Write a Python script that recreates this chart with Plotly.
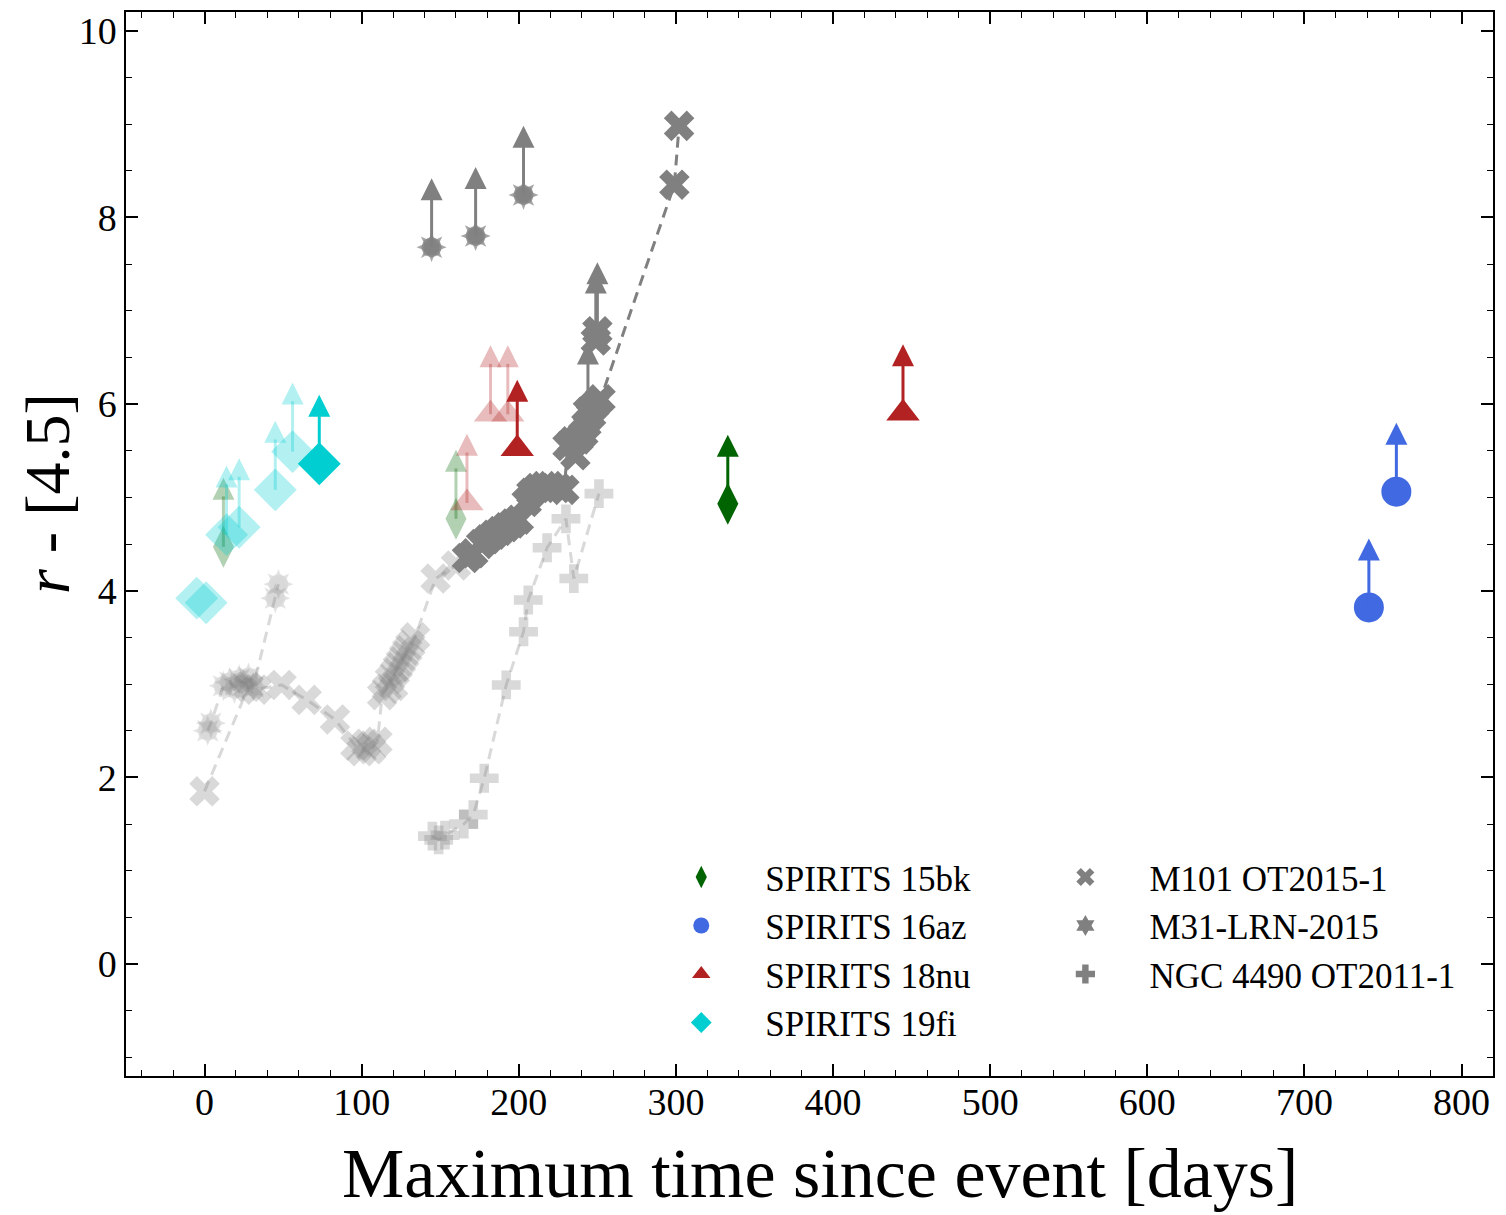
import plotly.graph_objects as go

# ---------------- data ----------------
# SPIRITS 15bk (earlier epochs faded, latest opaque); all lower limits
bk15_faded_days = [12, 160]
bk15_faded_val = [4.47, 4.77]
bk15_faded_lim = [True, True]
bk15_days = [333]
bk15_val = [4.93]
bk15_lim = [True]

# SPIRITS 16az
az16_days = [741, 758.5]
az16_val = [3.82, 5.06]
az16_lim = [True, True]

# SPIRITS 18nu
nu18_faded_days = [167, 182, 193]
nu18_faded_val = [4.94, 5.89, 5.89]
nu18_faded_lim = [True, True, True]
nu18_days = [199, 444.5]
nu18_val = [5.52, 5.9]
nu18_lim = [True, True]

# SPIRITS 19fi
fi19_faded_days = [-5, 1, 14, 22, 45, 56]
fi19_faded_val = [3.92, 3.87, 4.6, 4.68, 5.08, 5.49]
fi19_faded_lim = [False, False, True, True, True, True]
fi19_days = [73]
fi19_val = [5.36]
fi19_lim = [True]

# M101 OT2015-1
m101_faded_days = [0, 28, 33, 49, 65, 83, 96, 100, 103, 106, 110, 113, 116, 118, 120,
                   121, 123, 125, 127, 129, 131, 134, 147, 160]
m101_faded_val = [1.85, 2.97, 2.94, 2.99, 2.83, 2.62, 2.34, 2.28, 2.36, 2.30, 2.38, 2.88,
                  2.95, 3.05, 2.98, 3.12, 3.18, 3.24, 3.30, 3.36, 3.42, 3.50, 4.13, 4.27]
m101_days = [167, 171, 176, 180, 184, 188, 192, 196, 200, 205, 208, 212, 216, 220, 225,
             229, 231, 234, 236, 238, 241, 243, 246, 248, 252, 299, 302]
m101_val = [4.35, 4.40, 4.50, 4.55, 4.60, 4.64, 4.68, 4.72, 4.76, 4.95, 5.05, 5.10, 5.12,
            5.12, 5.10, 5.08, 5.55, 5.60, 5.45, 5.62, 5.68, 5.78, 5.88, 5.98, 6.05, 8.35, 8.98]
m101_lim_days = [244, 249, 250]
m101_lim_val = [5.92, 6.68, 6.78]
m101_lim_flag = [True, True, True]

# M31-LRN-2015
m31_faded_days = [2, 4, 12, 16, 19, 22, 25, 28, 31, 45, 47]
m31_faded_val = [2.50, 2.58, 2.98, 3.02, 2.95, 3.05, 3.00, 3.07, 2.97, 3.92, 4.07]
m31_days = [144.5, 172.5, 203]
m31_val = [7.68, 7.80, 8.24]
m31_lim = [True, True, True]

# NGC 4490 OT2011-1
ngc_days = [145, 149, 153, 165, 171, 178, 192, 203, 206, 218, 230, 235, 251]
ngc_val = [1.37, 1.33, 1.38, 1.50, 1.60, 1.99, 2.99, 3.56, 3.90, 4.46, 4.77, 4.13, 5.04]

x_ticks = [0, 100, 200, 300, 400, 500, 600, 700, 800]
y_ticks = [0, 2, 4, 6, 8, 10]

# ---------------- style ----------------
GREEN = "#006400"
BLUE = "#4169E1"
RED = "#B22222"
CYAN = "#00CED1"
GRAY = "#808080"
FADE = 0.3
ARROW_LEN = 0.74
SERIF = "Liberation Serif"

STAR_PARTS = ["circle", "star-diamond", "star-square"]
STAR_SIZES = [20, 21.5, 19.5]


def rgba(hexc, a):
    h = hexc.lstrip("#")
    r, g, b = int(h[0:2], 16), int(h[2:4], 16), int(h[4:6], 16)
    return f"rgba({r},{g},{b},{a})"


fig = go.Figure()


def add_line(days, vals, color, alpha, width=3):
    fig.add_trace(go.Scatter(x=days, y=vals, mode="lines",
                             line=dict(color=rgba(color, alpha), width=width, dash="11px,7px"),
                             showlegend=False, hoverinfo="skip"))


def add_markers(days, vals, symbol, color, size, alpha):
    fig.add_trace(go.Scatter(x=days, y=vals, mode="markers",
                             marker=dict(symbol=symbol, size=size, color=color,
                                         opacity=alpha, line=dict(width=0)),
                             showlegend=False))


def add_stars(days, vals, color, alpha):
    for d, v in zip(days, vals):
        fig.add_trace(go.Scatter(x=[d] * 3, y=[v] * 3, mode="markers", opacity=alpha,
                                 marker=dict(symbol=STAR_PARTS, size=STAR_SIZES, color=color,
                                             line=dict(width=0)),
                                 showlegend=False))


def add_arrows(days, vals, lims, color, alpha, head=22):
    xs, ys, hx, hy = [], [], [], []
    for d, v, l in zip(days, vals, lims):
        if l:
            xs += [d, d, None]
            ys += [v, v + ARROW_LEN - 0.2, None]
            hx.append(d)
            hy.append(v + ARROW_LEN)
    if not hx:
        return
    fig.add_trace(go.Scatter(x=xs, y=ys, mode="lines",
                             line=dict(color=rgba(color, alpha), width=3),
                             showlegend=False, hoverinfo="skip"))
    fig.add_trace(go.Scatter(x=hx, y=hy, mode="markers",
                             marker=dict(symbol="arrow-up", size=head, color=color,
                                         opacity=alpha, line=dict(width=0)),
                             showlegend=False, hoverinfo="skip"))


# faded comparison objects
add_line(ngc_days, ngc_val, GRAY, FADE)
add_markers(ngc_days, ngc_val, "cross", GRAY, 24, FADE)
add_line(m101_faded_days, m101_faded_val, GRAY, FADE)
add_line(m31_faded_days, m31_faded_val, GRAY, FADE)
add_stars(m31_faded_days, m31_faded_val, GRAY, FADE)
add_markers(m101_faded_days, m101_faded_val, "x", GRAY, 27, FADE)

# opaque comparison objects
add_line(m101_days, m101_val, GRAY, 1.0)
add_markers(m101_days, m101_val, "x", GRAY, 27, 1.0)
add_markers(m101_lim_days, m101_lim_val, "x", GRAY, 27, 1.0)
add_arrows(m101_lim_days, m101_lim_val, m101_lim_flag, GRAY, 1.0)
add_stars(m31_days, m31_val, GRAY, 1.0)
add_arrows(m31_days, m31_val, m31_lim, GRAY, 1.0)

# SPIRITS faded epochs
add_markers(bk15_faded_days, bk15_faded_val, "diamond-tall", GREEN, 30, FADE)
add_arrows(bk15_faded_days, bk15_faded_val, bk15_faded_lim, GREEN, FADE)
add_markers(nu18_faded_days, nu18_faded_val, "triangle-up", RED, 29, FADE)
add_arrows(nu18_faded_days, nu18_faded_val, nu18_faded_lim, RED, FADE)
add_markers(fi19_faded_days, fi19_faded_val, "diamond", CYAN, 33, FADE)
add_arrows(fi19_faded_days, fi19_faded_val, fi19_faded_lim, CYAN, FADE)

# SPIRITS latest epochs
add_markers(bk15_days, bk15_val, "diamond-tall", GREEN, 30, 1.0)
add_arrows(bk15_days, bk15_val, bk15_lim, GREEN, 1.0)
add_markers(az16_days, az16_val, "circle", BLUE, 30, 1.0)
add_arrows(az16_days, az16_val, az16_lim, BLUE, 1.0)
add_markers(nu18_days, nu18_val, "triangle-up", RED, 29, 1.0)
add_arrows(nu18_days, nu18_val, nu18_lim, RED, 1.0)
add_markers(fi19_days, fi19_val, "diamond", CYAN, 33, 1.0)
add_arrows(fi19_days, fi19_val, fi19_lim, CYAN, 1.0)

# legend entries
legend_items = [
    ("SPIRITS 15bk", "diamond-tall", GREEN, "legend"),
    ("SPIRITS 16az", "circle", BLUE, "legend"),
    ("SPIRITS 18nu", "triangle-up", RED, "legend"),
    ("SPIRITS 19fi", "diamond", CYAN, "legend"),
    ("M101 OT2015-1", "x", GRAY, "legend2"),
    ("M31-LRN-2015", "hexagram", GRAY, "legend2"),
    ("NGC 4490 OT2011-1", "cross", GRAY, "legend2"),
]
for name, sym, col, leg in legend_items:
    fig.add_trace(go.Scatter(x=[None], y=[None], mode="markers", name=name, legend=leg,
                             marker=dict(symbol=sym, size=16, color=col, line=dict(width=0))))

axis_common = dict(
    ticks="inside", ticklen=12, tickwidth=1.5, tickcolor="black",
    showline=True, linewidth=1.5, linecolor="black", mirror="allticks",
    showgrid=False, zeroline=False,
    tickfont=dict(family=SERIF, size=38, color="black"),
)

legend_common = dict(
    xanchor="left", yanchor="top", bgcolor="rgba(0,0,0,0)", borderwidth=0,
    font=dict(family=SERIF, size=35, color="black"), itemwidth=118,
    tracegroupgap=0,
)

fig.update_layout(
    width=1506, height=1215,
    margin=dict(l=126, r=13, t=10, b=139),
    paper_bgcolor="white", plot_bgcolor="white",
    showlegend=True,
    xaxis=dict(range=[-50, 820], tickmode="array", tickvals=x_ticks,
               ticklabelstandoff=-8,
               minor=dict(ticks="inside", ticklen=6, tickwidth=1.2, tickcolor="black",
                          dtick=20, tick0=0, showgrid=False),
               **axis_common),
    yaxis=dict(range=[-1.2, 10.2], tickmode="array", tickvals=y_ticks,
               minor=dict(ticks="inside", ticklen=6, tickwidth=1.2, tickcolor="black",
                          dtick=0.5, tick0=0, showgrid=False),
               **axis_common),
    legend=dict(x=0.374, y=0.2145, **legend_common),
    legend2=dict(x=0.655, y=0.2145, **legend_common),
    annotations=[
        dict(text="<i>r</i> - [4.5]", xref="paper", yref="paper",
             x=-0.057, y=0.547, xanchor="center", yanchor="middle",
             textangle=-90, showarrow=False,
             font=dict(family=SERIF, size=64, color="black")),
        dict(text="Maximum time since event [days]", xref="paper", yref="paper",
             x=0.5075, y=-0.0915, xanchor="center", yanchor="middle",
             showarrow=False,
             font=dict(family=SERIF, size=70, color="black")),
    ],
)

fig.write_html("out.html")
